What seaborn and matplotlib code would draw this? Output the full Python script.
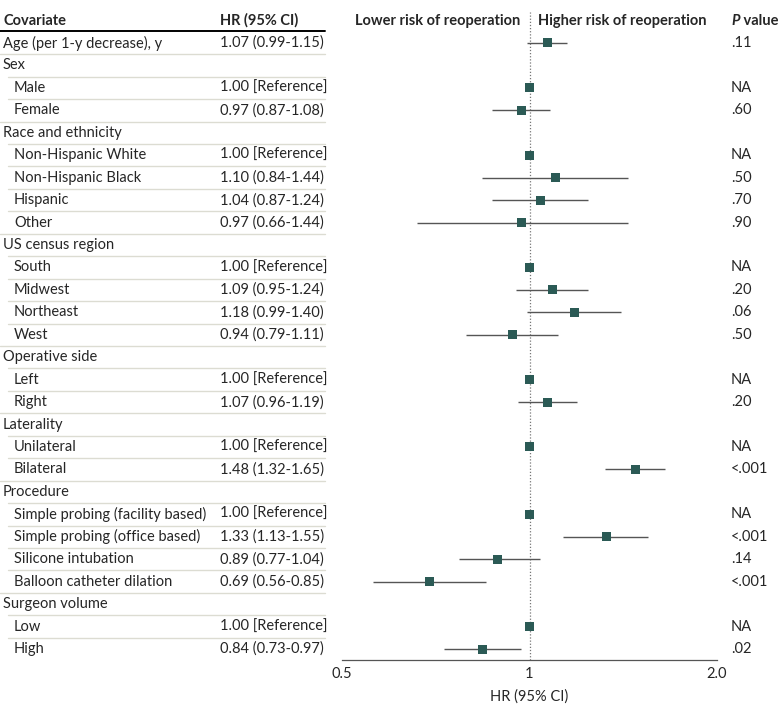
import numpy as np
import pandas as pd
import matplotlib
matplotlib.use("Agg")
import matplotlib.pyplot as plt
import matplotlib.transforms as mtransforms
import seaborn as sns

# ---- data ----
labels = [
    "Age (per 1-y decrease), y", "Sex", "Male", "Female",
    "Race and ethnicity", "Non-Hispanic White", "Non-Hispanic Black", "Hispanic", "Other",
    "US census region", "South", "Midwest", "Northeast", "West",
    "Operative side", "Left", "Right",
    "Laterality", "Unilateral", "Bilateral",
    "Procedure", "Simple probing (facility based)", "Simple probing (office based)",
    "Silicone intubation", "Balloon catheter dilation",
    "Surgeon volume", "Low", "High",
]
levels = [0, 0, 1, 1, 0, 1, 1, 1, 1, 0, 1, 1, 1, 1, 0, 1, 1, 0, 1, 1, 0, 1, 1, 1, 1, 0, 1, 1]
hr = [1.07, np.nan, 1.00, 0.97, np.nan, 1.00, 1.10, 1.04, 0.97, np.nan, 1.00, 1.09, 1.18, 0.94,
      np.nan, 1.00, 1.07, np.nan, 1.00, 1.48, np.nan, 1.00, 1.33, 0.89, 0.69, np.nan, 1.00, 0.84]
ci_low = [0.99, np.nan, np.nan, 0.87, np.nan, np.nan, 0.84, 0.87, 0.66, np.nan, np.nan, 0.95, 0.99, 0.79,
          np.nan, np.nan, 0.96, np.nan, np.nan, 1.32, np.nan, np.nan, 1.13, 0.77, 0.56, np.nan, np.nan, 0.73]
ci_high = [1.15, np.nan, np.nan, 1.08, np.nan, np.nan, 1.44, 1.24, 1.44, np.nan, np.nan, 1.24, 1.40, 1.11,
           np.nan, np.nan, 1.19, np.nan, np.nan, 1.65, np.nan, np.nan, 1.55, 1.04, 0.85, np.nan, np.nan, 0.97]
p_values = [".11", "", "NA", ".60", "", "NA", ".50", ".70", ".90", "", "NA", ".20", ".06", ".50",
            "", "NA", ".20", "", "NA", "<.001", "", "NA", "<.001", ".14", "<.001", "", "NA", ".02"]
x_ticks = [0.5, 1, 2.0]
x_ticklabels = ["0.5", "1", "2.0"]

df = pd.DataFrame({"label": labels, "level": levels, "hr": hr,
                   "lo": ci_low, "hi": ci_high, "p": p_values})
df["row"] = np.arange(len(df))


def hr_text(r):
    if np.isnan(r.hr) and r.level == 0:
        return ""
    if np.isnan(r.lo):
        return f"{r.hr:.2f} [Reference]"
    return f"{r.hr:.2f} ({r.lo:.2f}-{r.hi:.2f})"


df["hr_txt"] = df.apply(hr_text, axis=1)

# ---- styling ----
sns.set_theme(style="white")
plt.rcParams["font.family"] = ["Lato", "DejaVu Sans"]
FS = 10.5
marker_color = "#2b5a55"
ci_color = "#555555"
sep_color = "#dcdcd2"

W, H = 780, 713
fig = plt.figure(figsize=(W / 100, H / 100), dpi=100)
ax = fig.add_axes([342 / W, 1 - 660 / H, (717 - 342) / W, (660 - 12) / H])

# CI lines and point estimates
ci = df.dropna(subset=["lo"])
ax.hlines(ci["row"], ci["lo"], ci["hi"], color=ci_color, lw=1, zorder=2)
pts = df.dropna(subset=["hr"])
sns.scatterplot(data=pts, x="hr", y="row", marker="s", s=42, color=marker_color,
                edgecolor="none", ax=ax, zorder=3)
ax.axvline(1, color="#777777", lw=0.9, ls=(0, (1, 1.5)), zorder=1)

ax.set_xscale("log")
ax.set_xlim(0.5, 2.0)
ax.set_ylim(27.49, -1.38)
ax.set_xticks(x_ticks)
ax.set_xticklabels(x_ticklabels, fontsize=FS)
ax.minorticks_off()
ax.set_yticks([])
ax.set_xlabel("HR (95% CI)", fontsize=FS, labelpad=6)
ax.set_ylabel("")
ax.tick_params(axis="x", direction="in", length=5, width=0.8, color="#555555", pad=5)
for s in ["top", "right", "left"]:
    ax.spines[s].set_visible(False)
ax.spines["bottom"].set_color("#555555")
ax.spines["bottom"].set_linewidth(0.9)

# header above plot
hdr_y = -1.0
ax.annotate("Lower risk of reoperation", xy=(1, hdr_y), xytext=(-9, 0), textcoords="offset pixels",
            ha="right", va="center", fontsize=FS, fontweight="bold")
ax.annotate("Higher risk of reoperation", xy=(1, hdr_y), xytext=(9, 0), textcoords="offset pixels",
            ha="left", va="center", fontsize=FS, fontweight="bold")

# table text: x in figure pixels, y in data rows
tr = mtransforms.blended_transform_factory(fig.transFigure, ax.transData)


def fx(px):
    return px / W


ax.text(fx(3), hdr_y, "Covariate", transform=tr, ha="left", va="center", fontsize=FS, fontweight="bold")
ax.text(fx(220), hdr_y, "HR (95% CI)", transform=tr, ha="left", va="center", fontsize=FS, fontweight="bold")
p_txt = ax.text(fx(731), hdr_y, "P", transform=tr, ha="left", va="center", fontsize=FS,
                fontweight="bold", fontstyle="italic")
ax.annotate(" value", xy=(1, 0.5), xycoords=p_txt, ha="left", va="center",
            fontsize=FS, fontweight="bold")

# header rule
ax.plot([fx(0), fx(325)], [-0.53, -0.53], transform=tr, color="black", lw=1.4, clip_on=False)

for r in df.itertuples():
    x0 = 3 if r.level == 0 else 14
    ax.text(fx(x0), r.row, r.label, transform=tr, ha="left", va="center", fontsize=FS)
    if r.hr_txt:
        ax.text(fx(220), r.row, r.hr_txt, transform=tr, ha="left", va="center", fontsize=FS)
    if r.p:
        ax.text(fx(731), r.row, r.p, transform=tr, ha="left", va="center", fontsize=FS)
    if r.row < len(df) - 1:
        nxt_level = df["level"].iloc[r.row + 1]
        start = 0 if nxt_level == 0 else 8
        ax.plot([fx(start), fx(325)], [r.row + 0.5, r.row + 0.5], transform=tr,
                color=sep_color, lw=1, clip_on=False)

fig.savefig("out.png", dpi=100)
